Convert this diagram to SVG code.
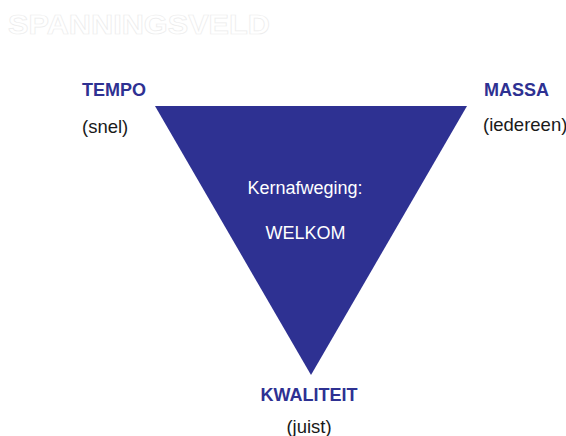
<svg xmlns="http://www.w3.org/2000/svg" width="566" height="436" viewBox="0 0 566 436">
<style>
.lbl{font-family:"Liberation Sans",Arial,sans-serif;font-size:18px;font-weight:bold;fill:#2E3192}
.sub{font-family:"Liberation Sans",Arial,sans-serif;font-size:18.5px;fill:#1a1a1a}
.in{font-family:"Liberation Sans",Arial,sans-serif;font-size:18px;fill:#ffffff;text-anchor:middle}
.title{font-family:"Liberation Sans",Arial,sans-serif;font-size:28px;font-weight:900;fill:#ffffff;stroke:#ececec;stroke-width:0.7}
</style>
<rect width="566" height="436" fill="#ffffff"/>
<text class="title" x="8" y="34" textLength="262" lengthAdjust="spacingAndGlyphs">SPANNINGSVELD</text>
<g id="triangle">
<polygon points="155,106 467,106 311,375" fill="#2E3192"/>
<text class="in" x="305" y="194">Kernafweging:</text>
<text class="in" x="305.5" y="239">WELKOM</text>
</g>
<g id="tempo">
<text class="lbl" x="82" y="96">TEMPO</text>
<text class="sub" x="82" y="133">(snel)</text>
</g>
<g id="massa">
<text class="lbl" x="484" y="96">MASSA</text>
<text class="sub" x="483" y="131">(iedereen)</text>
</g>
<g id="kwaliteit">
<text class="lbl" x="309" y="401" text-anchor="middle">KWALITEIT</text>
<text class="sub" x="309" y="433" text-anchor="middle">(juist)</text>
</g>
<g id="connectors"></g>
</svg>
